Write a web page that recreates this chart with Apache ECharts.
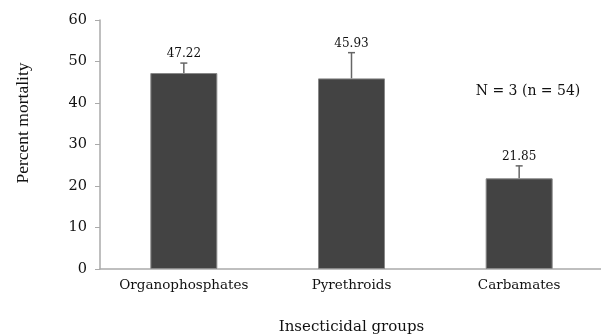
<!DOCTYPE html>
<html><head><meta charset="utf-8">
<script src="https://cdn.jsdelivr.net/npm/echarts@6/dist/echarts.min.js"></script>
<style>html,body{margin:0;padding:0;background:#fff}#c{width:601px;height:334px}</style>
</head><body><div id="c"></div>
<script>
const categories = ['Organophosphates', 'Pyrethroids', 'Carbamates'];
const means = [47.22, 45.93, 21.85];
const errors = [2.4, 6.2, 3.0];
const yTicks = [0, 10, 20, 30, 40, 50, 60];
const note = 'N = 3 (n = 54)';

const chart = echarts.init(document.getElementById('c'));
const serif = 'DejaVu Serif';
chart.setOption({
  animation: false,
  grid: { left: 100, top: 20, width: 503, height: 249, containLabel: false, outerBoundsMode: 'none' },
  xAxis: {
    type: 'category', data: categories,
    axisLine: { lineStyle: { color: '#aaa', width: 1.5 } },
    axisTick: { length: 3, lineStyle: { color: '#aaa' } },
    axisLabel: { interval: 0, margin: 9, fontFamily: serif, fontSize: 13.5, color: '#111' },
    name: 'Insecticidal groups', nameLocation: 'middle', nameGap: 51,
    nameTextStyle: { fontFamily: serif, fontSize: 15, color: '#111' }
  },
  yAxis: {
    type: 'value', min: yTicks[0], max: yTicks[yTicks.length - 1], interval: 10,
    axisLine: { show: true, lineStyle: { color: '#aaa', width: 1.5 } },
    axisTick: { show: true, length: 5, lineStyle: { color: '#aaa' } },
    splitLine: { show: false },
    axisLabel: { margin: 13, fontFamily: serif, fontSize: 14.5, color: '#111' }
  },
  graphic: [
    { type: 'text', x: 23, y: 123, rotation: Math.PI / 2,
      style: { text: 'Percent mortality', fontFamily: 'Liberation Serif', fontSize: 17.5,
        fill: '#111', textAlign: 'center', textVerticalAlign: 'middle' } },
    { type: 'text', x: 528, y: 91,
      style: { text: note, fontFamily: serif, fontSize: 14, fill: '#111',
        textAlign: 'center', textVerticalAlign: 'middle' } }
  ],
  series: [
    { type: 'bar', data: means, barWidth: 67,
      itemStyle: { color: '#434343', borderColor: '#888', borderWidth: 1 } },
    { type: 'custom', data: categories.map((c, i) => [i, means[i], errors[i]]),
      z: 10,
      renderItem: function (params, api) {
        const base = api.coord([api.value(0), api.value(1)]);
        const top = api.coord([api.value(0), api.value(1) + api.value(2)]);
        const st = { stroke: '#666', lineWidth: 1.5 };
        return { type: 'group', children: [
          { type: 'line', shape: { x1: base[0], y1: base[1], x2: top[0], y2: top[1] }, style: st },
          { type: 'line', shape: { x1: top[0] - 3.5, y1: top[1], x2: top[0] + 3.5, y2: top[1] }, style: st },
          { type: 'text', x: top[0], y: top[1] - 3,
            style: { text: api.value(1).toFixed(2), fontFamily: serif, fontSize: 12, fill: '#111',
              textAlign: 'center', textVerticalAlign: 'bottom' } }
        ]};
      } }
  ]
});
</script></body></html>
